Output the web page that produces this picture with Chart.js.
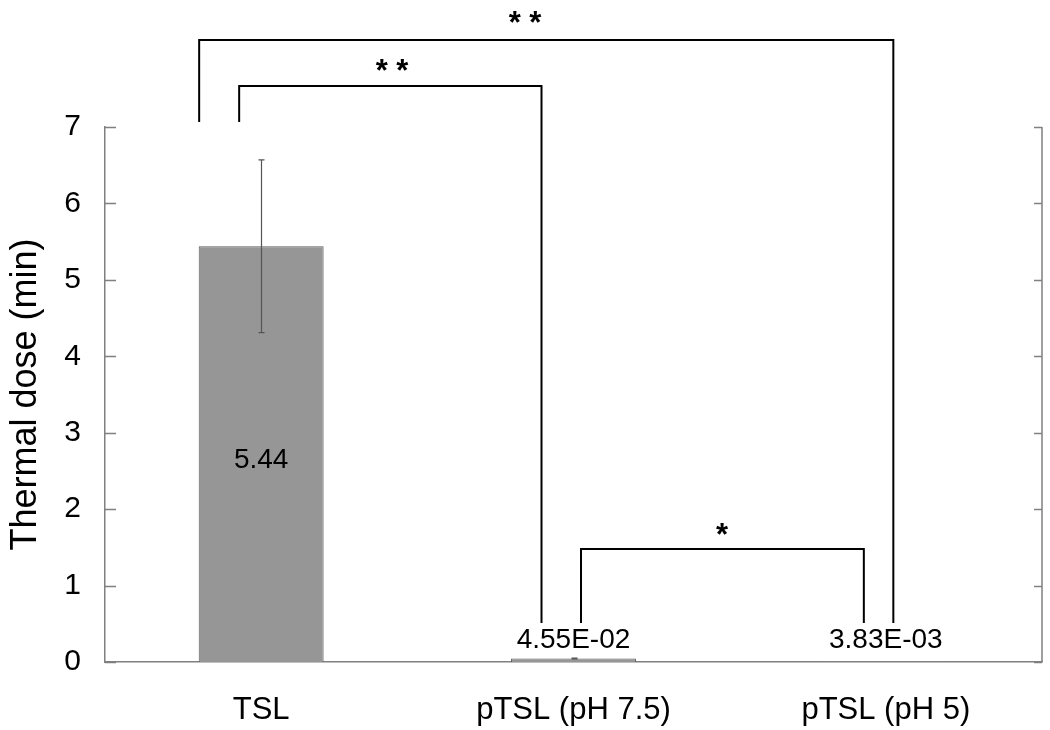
<!DOCTYPE html>
<html>
<head>
<meta charset="utf-8">
<script src="https://cdn.jsdelivr.net/npm/chart.js@4/dist/chart.umd.min.js"></script>
<style>
  html, body { margin: 0; padding: 0; background: #fff; }
  #wrap { width: 1050px; height: 730px; }
</style>
</head>
<body>
<div id="wrap"><canvas id="dose"></canvas></div>
<script>
// Chart values
const categories = ["TSL", "pTSL (pH 7.5)", "pTSL (pH 5)"];
const doseValues = [5.44, 0.0455, 0.00383];
const doseErrors = [1.13, 0.006, 0];
const yMin = 0, yMax = 7, yStep = 1;
const sigMarks = ["* *", "* *", "*"];

const fontName = "'Liberation Sans', Arial, sans-serif";
const axisGray = "#808080";

// 4.55E-02 style for the small values
const fmtValue = (v) => {
    if (v >= 1) return v.toFixed(2);
    let [m, e] = v.toExponential(2).split("e");
    let n = parseInt(e, 10);
    let sign = n < 0 ? "-" : "+";
    return m + "E" + sign + String(Math.abs(n)).padStart(2, "0");
};

const extras = {
    id: "extras",
    afterDraw(chart) {
        const ctx = chart.ctx;
        const area = chart.chartArea;
        const x = chart.scales.x, y = chart.scales.y;
        const bars = chart.getDatasetMeta(0).data;

        ctx.save();

        // right frame line and inward ticks on both sides
        ctx.strokeStyle = axisGray;
        ctx.lineWidth = 1.5;
        ctx.beginPath();
        ctx.moveTo(area.right, area.top);
        ctx.lineTo(area.right, area.bottom);
        y.ticks.forEach((t, i) => {
            let py = Math.round(y.getPixelForTick(i)) + 0.5;
            ctx.moveTo(area.left, py);
            ctx.lineTo(area.left + 11, py);
            ctx.moveTo(area.right - 8, py);
            ctx.lineTo(area.right, py);
        });
        ctx.stroke();

        // error bars
        ctx.strokeStyle = "#555";
        ctx.lineWidth = 1.2;
        doseValues.forEach((v, i) => {
            if (!doseErrors[i]) return;
            let px = Math.round(bars[i].x) + 0.5;
            let hi = y.getPixelForValue(v + doseErrors[i]);
            let lo = y.getPixelForValue(Math.max(0, v - doseErrors[i]));
            ctx.beginPath();
            ctx.moveTo(px, hi);
            ctx.lineTo(px, lo);
            ctx.moveTo(px - 3, hi);
            ctx.lineTo(px + 3, hi);
            ctx.moveTo(px - 3, lo);
            ctx.lineTo(px + 3, lo);
            ctx.stroke();
        });

        // value labels
        ctx.fillStyle = "#000";
        ctx.font = "28px " + fontName;
        ctx.textAlign = "center";
        ctx.textBaseline = "middle";
        doseValues.forEach((v, i) => {
            let b = bars[i];
            let ty = v > 1 ? (b.y + b.base) / 2 + 6 : area.bottom - 22;
            ctx.fillText(fmtValue(v), b.x, ty);
        });

        // significance brackets
        const cx = (i) => x.getPixelForValue(i);
        const legEnd = area.bottom - 39;
        const brackets = [
            { l: cx(0) - 22, r: cx(1) - 32, top: 86, lb: 122, rb: legEnd, mark: sigMarks[0], mx: 392, my: 72 },
            { l: cx(0) - 62, r: cx(2) + 7.5, top: 40, lb: 122, rb: legEnd, mark: sigMarks[1], mx: 525, my: 24 },
            { l: cx(1) + 7.5, r: cx(2) - 22, top: 549, lb: legEnd, rb: legEnd, mark: sigMarks[2], mx: 722, my: 536 },
        ];
        ctx.strokeStyle = "#000";
        ctx.lineWidth = 2;
        ctx.font = "bold 31px " + fontName;
        brackets.forEach((k) => {
            ctx.beginPath();
            ctx.moveTo(k.l, k.lb);
            ctx.lineTo(k.l, k.top);
            ctx.lineTo(k.r, k.top);
            ctx.lineTo(k.r, k.rb);
            ctx.stroke();
            ctx.fillText(k.mark, k.mx, k.my);
        });

        ctx.restore();
    },
};

new Chart(document.getElementById("dose"), {
    type: "bar",
    plugins: [extras],
    data: {
        labels: categories,
        datasets: [
            {
                data: doseValues,
                backgroundColor: "#969696",
                borderColor: "#5e5e5e",
                borderWidth: 1,
                borderSkipped: "bottom",
                barPercentage: 0.4,
                categoryPercentage: 1,
            },
        ],
    },
    options: {
        responsive: true,
        maintainAspectRatio: false,
        animation: false,
        layout: { padding: { top: 127, right: 8, left: 0, bottom: 0 } },
        plugins: {
            legend: { display: false },
            tooltip: { enabled: false },
        },
        scales: {
            x: {
                grid: { display: false },
                border: { display: true, color: axisGray, width: 1.5 },
                ticks: {
                    color: "#000",
                    font: { family: fontName, size: 31 },
                    padding: 22,
                    maxRotation: 0,
                },
                afterFit: (s) => { s.height = 68; },
            },
            y: {
                min: yMin,
                max: yMax,
                grid: { display: false, drawTicks: false },
                border: { display: true, color: axisGray, width: 1.5 },
                ticks: {
                    stepSize: yStep,
                    color: "#000",
                    font: { family: fontName, size: 30 },
                    padding: 24,
                },
                title: {
                    display: true,
                    text: "Thermal dose (min)",
                    color: "#000",
                    font: { family: fontName, size: 36 },
                    padding: { top: 4, bottom: 0 },
                },
                afterFit: (s) => { s.width = 105; },
            },
        },
    },
});
</script>
</body>
</html>
